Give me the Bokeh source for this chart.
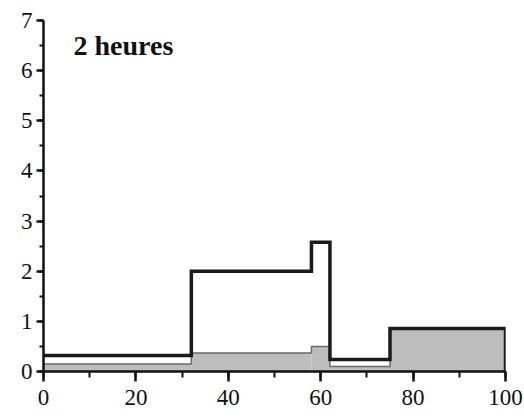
from bokeh.plotting import figure
from bokeh.models import Range1d, SingleIntervalTicker, Label, LinearAxis
from bokeh.themes import Theme
from bokeh.embed import file_html
from bokeh.resources import INLINE

# Step boundaries along the x axis
edges = [0, 32, 58, 62, 75, 100]
# Total level per interval (black outline)
total = [0.32, 2.0, 2.58, 0.24, 0.86]
# Shaded portion per interval
shaded = [0.15, 0.37, 0.50, 0.10, 0.86]

x_ticks_interval = 20
y_ticks_interval = 1

SERIF = "'Liberation Serif', 'Times New Roman', serif"

axis_style = dict(
    axis_line_width=2.5, axis_line_color="#111111",
    major_tick_line_width=2.5, minor_tick_line_width=2,
    major_tick_line_color="#111111", minor_tick_line_color="#111111",
    major_tick_in=0, minor_tick_in=0,
    major_label_text_font=SERIF, major_label_text_font_size="23px",
    major_label_text_color="#111111",
)
theme = Theme(json={"attrs": {"Axis": axis_style, "LinearAxis": axis_style}})

p = figure(width=524, height=419, output_backend="svg", toolbar_location=None,
           x_range=Range1d(0, 100), y_range=Range1d(0, 7),
           x_axis_type=None, y_axis_type=None,
           min_border_left=43, min_border_right=19, min_border_top=20, min_border_bottom=48)
p.outline_line_color = None
p.xgrid.visible = False
p.ygrid.visible = False
p.background_fill_color = "white"
p.border_fill_color = "white"

# Shaded blocks
p.quad(left=edges[:-1], right=edges[1:], bottom=0, top=shaded,
       fill_color="#bdbdbd", line_color=None)

# Thin outline of the shaded blocks
sx, sy = [], []
for i, v in enumerate(shaded):
    sx += [edges[i], edges[i + 1]]
    sy += [v, v]
sx.append(edges[-1]); sy.append(0)
p.line(sx, sy, line_color="#6a6a6a", line_width=1.5)

# Thick outline of the total level
tx, ty = [], []
for i, v in enumerate(total):
    tx += [edges[i], edges[i + 1]]
    ty += [v, v]
tx.append(edges[-1]); ty.append(0)
p.line(tx, ty, line_color="#1a1a1a", line_width=3.5, line_join="miter")


def styled_axis(interval, tick_out, minor_out, standoff):
    return LinearAxis(
        ticker=SingleIntervalTicker(interval=interval, num_minor_ticks=2),
        major_tick_out=tick_out, minor_tick_out=minor_out,
        major_label_standoff=standoff, **axis_style,
    )


p.add_layout(styled_axis(x_ticks_interval, 10, 6, 8), "below")
p.add_layout(styled_axis(y_ticks_interval, 7, 4, 4), "left")

p.add_layout(Label(x=6.5, y=6.5, text="2 heures", text_font=SERIF,
                   text_font_style="bold", text_font_size="28px",
                   text_color="#111111", text_baseline="middle"))

open("out.html", "w").write(file_html(p, INLINE, theme=theme))
